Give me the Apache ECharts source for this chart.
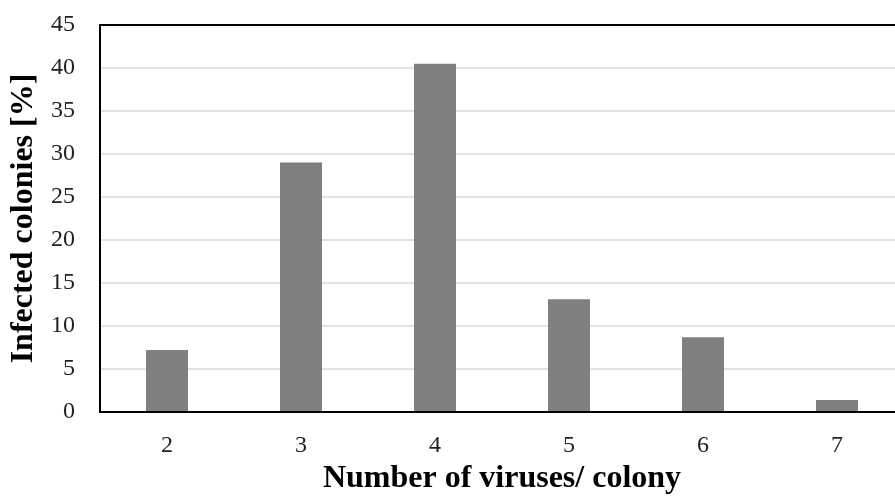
<!DOCTYPE html>
<html>
<head>
<meta charset="utf-8">
<script src="https://cdn.jsdelivr.net/npm/echarts@6/dist/echarts.min.js"></script>
<style>html,body{margin:0;padding:0;background:#fff}#c{width:895px;height:497px}</style>
</head>
<body>
<div id="c"></div>
<script>
const categories = ['2', '3', '4', '5', '6', '7'];
const values = [7.2, 29.0, 40.5, 13.1, 8.7, 1.4];
const xTitle = 'Number of viruses/ colony';
const yTitle = 'Infected colonies [%]';

const chart = echarts.init(document.getElementById('c'), null, {renderer: 'canvas'});
chart.setOption({
  animation: false,
  backgroundColor: '#ffffff',
  grid: {left: 100, width: 804, top: 25, height: 387, containLabel: false, outerBoundsMode: 'none'},
  xAxis: [{
    type: 'category',
    data: categories,
    name: xTitle,
    nameLocation: 'middle',
    nameGap: 46,
    nameTextStyle: {fontFamily: 'Liberation Serif', fontSize: 32, fontWeight: 'bold', color: '#000'},
    axisLine: {lineStyle: {color: '#000', width: 2}},
    axisTick: {show: false},
    axisLabel: {fontFamily: 'Liberation Serif', fontSize: 24, color: '#222', margin: 22},
    z: 5
  }, {
    type: 'category',
    data: categories,
    position: 'top',
    axisLine: {show: true, lineStyle: {color: '#000', width: 2}},
    axisTick: {show: false},
    axisLabel: {show: false},
    z: 5
  }],
  yAxis: {
    type: 'value',
    min: 0, max: 45, interval: 5,
    name: yTitle,
    nameLocation: 'middle',
    nameGap: 60,
    nameTextStyle: {fontFamily: 'Liberation Serif', fontSize: 32, fontWeight: 'bold', color: '#000'},
    axisLine: {show: true, lineStyle: {color: '#000', width: 2}},
    axisTick: {show: false},
    axisLabel: {fontFamily: 'Liberation Serif', fontSize: 24, color: '#222', margin: 25},
    splitLine: {lineStyle: {color: '#d9d9d9', width: 1.5}}
  },
  series: [{
    type: 'bar',
    data: values,
    barWidth: 42,
    itemStyle: {color: '#7f7f7f'},
    z: 3
  }]
});
</script>
</body>
</html>
